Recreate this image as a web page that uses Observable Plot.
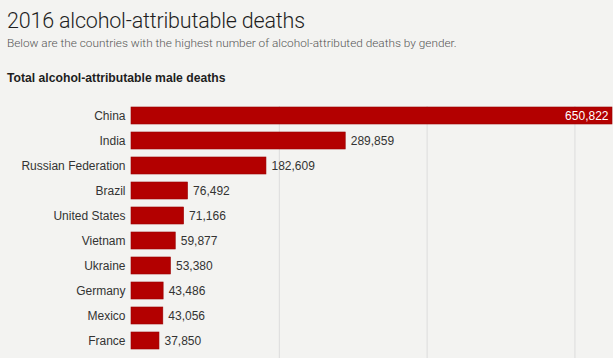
<!DOCTYPE html>
<html><head><meta charset="utf-8">
<script src="https://cdn.jsdelivr.net/npm/d3@7"></script>
<script src="https://cdn.jsdelivr.net/npm/@observablehq/plot@0.6"></script>
<style>
html,body{margin:0;padding:0;background:#f3f3f1;width:613px;height:358px;overflow:hidden;font-family:"Liberation Sans",Arial,sans-serif;}
#title{position:absolute;left:7px;top:8px;font-family:Roboto,sans-serif;font-weight:300;font-size:21.5px;color:#1e1e1e;white-space:nowrap;letter-spacing:-0.2px;}
#sub{position:absolute;left:7px;top:36px;font-family:Roboto,sans-serif;font-weight:300;font-size:11.8px;color:#555;white-space:nowrap;}
#head{position:absolute;left:7px;top:71px;font-size:12.2px;font-weight:bold;color:#1e1e1e;white-space:nowrap;}
#chart{position:absolute;left:0;top:106px;}
</style></head><body>
<div id="title">2016 alcohol-attributable deaths</div>
<div id="sub">Below are the countries with the highest number of alcohol-attributed deaths by gender.</div>
<div id="head">Total alcohol-attributable male deaths</div>
<div id="chart"></div>
<script>
const countries = ["China","India","Russian Federation","Brazil","United States","Vietnam","Ukraine","Germany","Mexico","France"];
const deaths = [650822,289859,182609,76492,71166,59877,53380,43486,43056,37850];
const gridValues = [200000,400000,600000];
const data = countries.map((c,i)=>({country:c,value:deaths[i]}));
const fmt = d3.format(",");
const maxV = d3.max(deaths);
const plot = Plot.plot({
  width: 613, height: 252,
  marginLeft: 131, marginRight: 1, marginTop: 0, marginBottom: 0,
  style: {background: "transparent", fontFamily: "'Liberation Sans', Arial, sans-serif"},
  x: {domain: [0, maxV], axis: null},
  y: {domain: countries, range: [0, 244], paddingInner: 0.325, paddingOuter: 0, axis: null},
  marks: [
    Plot.ruleX(gridValues, {stroke: "#dcdcdc", strokeWidth: 1}),
    Plot.barX(data, {y: "country", x: "value", fill: "#b30000", stroke: "#9a0000", strokeWidth: 0.6}),
    Plot.text(data, {y: "country", x: 0, text: "country", textAnchor: "end", dx: -6, fontSize: 12, fill: "#333"}),
    Plot.text(data.filter(d => d.value < maxV), {y: "country", x: "value", text: d => fmt(d.value), textAnchor: "start", dx: 5, fontSize: 12, fill: "#333"}),
    Plot.text(data.filter(d => d.value === maxV), {y: "country", x: "value", text: d => fmt(d.value), textAnchor: "end", dx: -4, fontSize: 12, fill: "#fff"})
  ]
});
document.getElementById("chart").appendChild(plot);
</script>
</body></html>
